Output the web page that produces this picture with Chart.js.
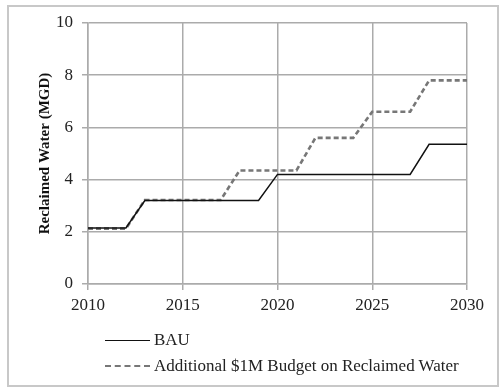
<!DOCTYPE html>
<html><head><meta charset="utf-8">
<script src="https://cdn.jsdelivr.net/npm/chart.js@4"></script>
<style>
html,body{margin:0;padding:0;background:#fff;}
#wrap{position:relative;width:500px;height:388px;overflow:hidden;background:#fff}
#frame{position:absolute;left:7px;top:5px;width:492px;height:382px;border:2px solid #c8c8c8;box-sizing:border-box}
#c{position:absolute;left:0;top:0}
#legend{position:absolute;left:105px;top:327px;font-family:'Liberation Serif',serif;font-size:17px;color:#222}
.item{display:flex;align-items:center;height:26px}
.swatch{width:45px;height:0;margin-right:4px}
</style>
</head><body>
<div id="wrap">
<div id="frame"></div>
<canvas id="c" width="500" height="388"></canvas>
<div id="legend"></div>
</div>
<script>
const years = [2010,2011,2012,2013,2014,2015,2016,2017,2018,2019,2020,2021,2022,2023,2024,2025,2026,2027,2028,2029,2030];
const bau = [2.15,2.15,2.15,3.2,3.2,3.2,3.2,3.2,3.2,3.2,4.2,4.2,4.2,4.2,4.2,4.2,4.2,4.2,5.35,5.35,5.35];
const additional = [2.12,2.12,2.12,3.22,3.22,3.22,3.22,3.22,4.35,4.35,4.35,4.35,5.6,5.6,5.6,6.6,6.6,6.6,7.8,7.8,7.8];
const seriesNames = ['BAU','Additional $1M Budget on Reclaimed Water'];
const xTicks = [2010,2015,2020,2025,2030];
const yTicks = [0,2,4,6,8,10];
const yTitle = 'Reclaimed Water (MGD)';

const gridColor = '#ababab';
const tickFont = {family:'Liberation Serif', size:17};
const toPts = arr => arr.map((v,i)=>({x:years[i], y:v}));

const chart = new Chart(document.getElementById('c'), {
  type:'line',
  data:{datasets:[
    {label:seriesNames[0], data:toPts(bau), borderColor:'#111', borderWidth:1.5, pointRadius:0, tension:0, fill:false},
    {label:seriesNames[1], data:toPts(additional), borderColor:'#777777', borderWidth:2.6, borderDash:[5,3], pointRadius:0, tension:0, fill:false}
  ]},
  options:{
    responsive:false, animation:false, devicePixelRatio:1,
    layout:{padding:{left:0,right:33,top:23,bottom:64}},
    plugins:{legend:{display:false}, tooltip:{enabled:false}},
    scales:{
      x:{type:'linear', min:xTicks[0], max:xTicks[xTicks.length-1],
        afterBuildTicks: s => { s.ticks = xTicks.map(v=>({value:v})); },
        afterFit: s => { s.height = 40; },
        ticks:{font:tickFont, color:'#222', padding:5, maxRotation:0, autoSkip:false, callback:v=>String(v)},
        grid:{color:gridColor, lineWidth:1.5, tickLength:6, tickColor:gridColor},
        border:{color:gridColor, width:1.5}
      },
      y:{min:yTicks[0], max:yTicks[yTicks.length-1],
        afterBuildTicks: s => { s.ticks = yTicks.map(v=>({value:v})); },
        afterFit: s => { s.width = 88; },
        ticks:{font:tickFont, color:'#222', padding:9},
        grid:{color:gridColor, lineWidth:1.5, tickLength:6, tickColor:gridColor},
        border:{color:gridColor, width:1.5},
        title:{display:true, text:yTitle, font:{family:'Liberation Serif', size:15, weight:'bold'}, color:'#111', padding:{top:36,bottom:0}}
      }
    }
  }
});

const leg = document.getElementById('legend');
chart.data.datasets.forEach(ds => {
  const it = document.createElement('div'); it.className='item';
  const sw = document.createElement('span'); sw.className='swatch';
  sw.style.borderTop = ds.borderDash ? '2px dashed ' + ds.borderColor : '1.5px solid ' + ds.borderColor;
  const tx = document.createElement('span'); tx.textContent = ds.label;
  it.appendChild(sw); it.appendChild(tx); leg.appendChild(it);
});
</script>
</body></html>
